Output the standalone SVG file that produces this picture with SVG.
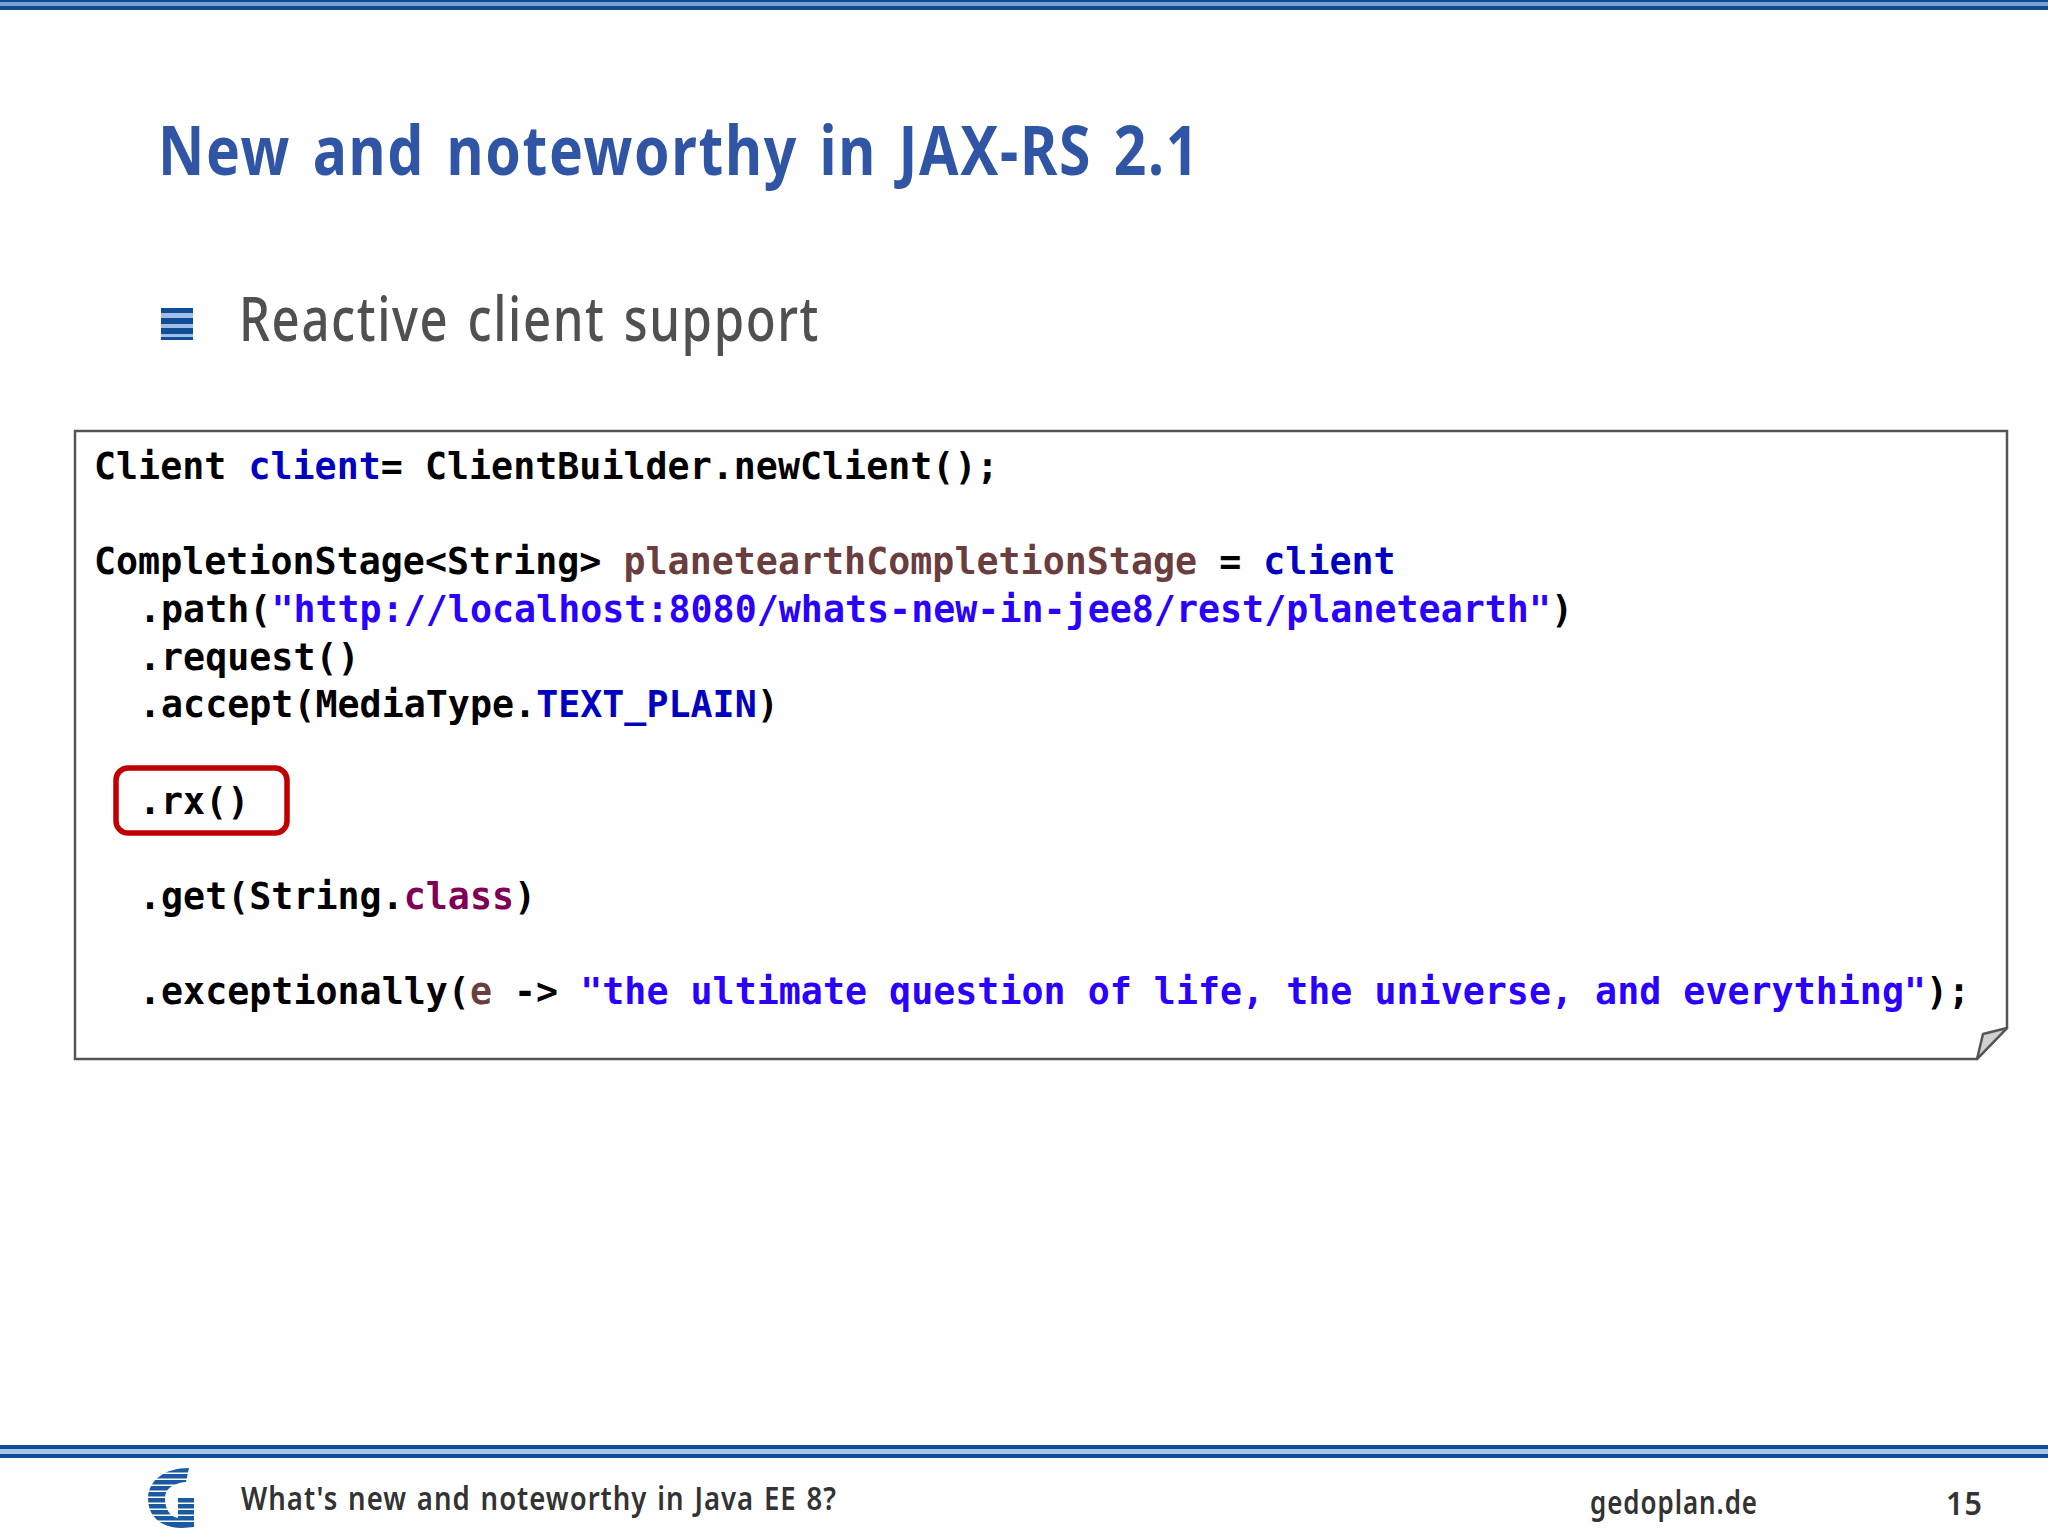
<svg xmlns="http://www.w3.org/2000/svg" width="2048" height="1536" viewBox="0 0 2048 1536">
<style>
.code{font-family:"DejaVu Sans Mono",monospace;font-weight:700;font-size:36.6px;fill:#000;white-space:pre;letter-spacing:.04px}
.kw{fill:#0000c0}.str{fill:#2a00ff}.var{fill:#6a3e3e}.cl{fill:#7f0055}
.ui{font-family:"Noto Sans","Open Sans",sans-serif}
.ft{font-size:33px;font-weight:600;fill:#333;letter-spacing:1.2px;word-spacing:2px}
</style>
<defs>
<clipPath id="g"><path d="M189 1468C165 1468 148 1480 148 1499C148 1518 163 1528 182 1528L194 1527L194 1498L178 1498L178 1518C170 1517 165 1509 165 1498C165 1489 173 1483 186 1482Z"/></clipPath>
</defs>
<rect width="2048" height="1536" fill="#fff"/>
<g id="top-band"><rect width="2048" height="10" fill="#0f4d8f"/><rect y="2" width="2048" height="4" fill="#7ba0d8"/></g>
<g id="title"><text class="ui" x="158" y="175" font-size="68" font-weight="700" fill="#2f55a4" letter-spacing="2" word-spacing="6" textLength="1042" lengthAdjust="spacingAndGlyphs">New and noteworthy in JAX-RS 2.1</text></g>
<g id="bullet">
<rect x="161" y="308" width="32" height="32" fill="#0f4d96"/>
<rect x="161" y="313" width="32" height="5" fill="#a3bee6"/><rect x="161" y="324" width="32" height="4" fill="#a3bee6"/><rect x="161" y="334" width="32" height="3" fill="#a3bee6"/>
<text class="ui" x="239" y="341" font-size="62" font-weight="500" fill="#505050" letter-spacing="2" word-spacing="5" textLength="581" lengthAdjust="spacingAndGlyphs">Reactive client support</text>
</g>
<g id="code-box">
<path d="M75 431H2007V1028L1977 1059H75Z" fill="#fff" stroke="#555" stroke-width="2.5"/>
<path d="M2007 1028L1983 1034L1977 1059Z" fill="#d0d0d0" stroke="#555" stroke-width="2.5" stroke-linejoin="round"/>
<rect x="116" y="768" width="171" height="65" rx="12" fill="none" stroke="#c00000" stroke-width="5.5"/>
<text class="code" x="94" y="479">Client <tspan class="kw">client</tspan>= ClientBuilder.newClient();</text>
<text class="code" x="94" y="574">CompletionStage&lt;String&gt; <tspan class="var">planetearthCompletionStage</tspan> = <tspan class="kw">client</tspan></text>
<text class="code" x="139" y="622">.path(<tspan class="str">"http://localhost:8080/whats-new-in-jee8/rest/planetearth"</tspan>)</text>
<text class="code" x="139" y="670">.request()</text>
<text class="code" x="139" y="717">.accept(MediaType.<tspan class="kw">TEXT_PLAIN</tspan>)</text>
<text class="code" x="139" y="814">.rx()</text>
<text class="code" x="139" y="909">.get(String.<tspan class="cl">class</tspan>)</text>
<text class="code" x="139" y="1004">.exceptionally(<tspan class="var">e</tspan> -&gt; <tspan class="str">"the ultimate question of life, the universe, and everything"</tspan>);</text>
</g>
<g id="footer">
<rect y="1445" width="2048" height="13" fill="#0f4d96"/><rect y="1449" width="2048" height="5" fill="#a9c5ea"/>
<g id="logo" clip-path="url(#g)" fill="#1a5aa0">
<rect x="148" y="1468" width="46" height="4.5"/><rect x="148" y="1474" width="46" height="4.5"/><rect x="148" y="1480" width="46" height="4.5"/><rect x="148" y="1486" width="46" height="4.5"/><rect x="148" y="1492" width="46" height="4.5"/><rect x="148" y="1498" width="46" height="4.5"/><rect x="148" y="1504" width="46" height="4.5"/><rect x="148" y="1510" width="46" height="4.5"/><rect x="148" y="1516" width="46" height="4.5"/><rect x="148" y="1522" width="46" height="6"/>
</g>
<text class="ui ft" x="241" y="1510" textLength="596" lengthAdjust="spacingAndGlyphs">What's new and noteworthy in Java EE 8?</text>
<text class="ui ft" x="1590" y="1514" textLength="168" lengthAdjust="spacingAndGlyphs">gedoplan.de</text>
<text class="ui ft" x="1946" y="1515" textLength="37" lengthAdjust="spacingAndGlyphs">15</text>
</g>
</svg>
